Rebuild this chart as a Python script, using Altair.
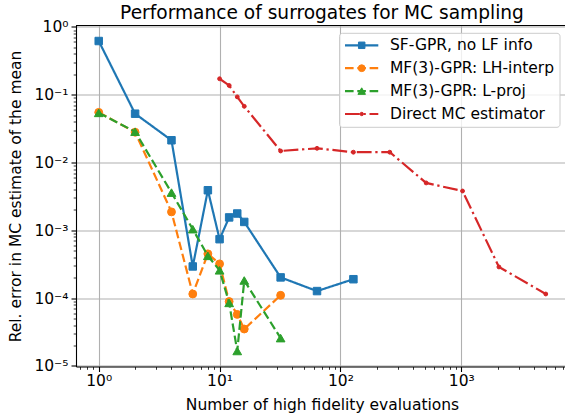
import altair as alt
import pandas as pd
import math

# ---------------- data ----------------
x_sf = [1, 2, 4, 6, 8, 10, 12, 14, 16, 32, 64, 128]
y_sf = [0.62, 0.0525, 0.0213, 2.93e-4, 3.9e-3, 7.4e-4, 1.55e-3, 1.77e-3, 1.33e-3, 2.02e-4, 1.27e-4, 1.9e-4]

x_lh = [1, 2, 4, 6, 8, 10, 12, 14, 16, 32]
y_lh = [0.055, 0.028, 1.87e-3, 1.15e-4, 4.5e-4, 3.2e-4, 8.9e-5, 5.75e-5, 3.5e-5, 1.1e-4]

x_lp = [1, 2, 4, 6, 8, 10, 12, 14, 16, 32]
y_lp = [0.054, 0.0285, 3.6e-3, 1.04e-3, 4.2e-4, 2.57e-4, 8.5e-5, 1.66e-5, 1.82e-4, 2.57e-5]

x_mc = [10, 12, 14, 16, 32, 64, 128, 256, 512, 1024, 2048, 5000]
y_mc = [0.172, 0.137, 0.093, 0.0675, 0.0148, 0.0162, 0.0142, 0.0142, 5.0e-3, 3.8e-3, 2.88e-4, 1.15e-4]

labels = ["SF-GPR, no LF info", "MF(3)-GPR: LH-interp", "MF(3)-GPR: L-proj", "Direct MC estimator"]
colors = ["#1f77b4", "#ff7f0e", "#2ca02c", "#d62728"]

title_text = "Performance of surrogates for MC sampling"
x_title = "Number of high fidelity evaluations"
y_title = "Rel. error in MC estimate of the mean"

x_major_exp = [0, 1, 2, 3]
y_major_exp = [-5, -4, -3, -2, -1, 0]

# ---------------- layout ----------------
W, H = 489, 341
X_DOM = [0.6486, 7211]
Y_DOM = [9.8e-6, 1.05]
FONT = "DejaVu Sans"
FS = 15.5

def ticks(dom, exps):
    vals = []
    for e in range(min(exps) - 1, max(exps) + 2):
        for m in range(1, 10):
            v = m * 10.0 ** e
            if dom[0] <= v <= dom[1]:
                vals.append(v)
    return vals

SUP = {'-': '\u207b', '0': '\u2070', '1': '\u00b9', '2': '\u00b2', '3': '\u00b3',
       '4': '\u2074', '5': '\u2075', '6': '\u2076'}

E = "round(log(datum.value)/LN10)"
MAJOR = f"abs(log(datum.value)/LN10 - {E}) < 1e-6"

def label_expr(exps):
    s = "''"
    for e in exps:
        lab = "10" + "".join(SUP[c] for c in str(e))
        s = f"({E} == {e} ? '{lab}' : {s})"
    return f"{MAJOR} ? {s} : ''"

def axis(title, exps, dom, **kw):
    return alt.Axis(
        title=title,
        values=ticks(dom, exps),
        labelExpr=label_expr(exps),
        labelOverlap=False,
        labelFlush=False,
        labelFont=FONT, labelFontSize=FS, labelColor="black",
        titleFont=FONT, titleFontSize=FS, titleFontWeight="normal", titleColor="black",
        domainColor="black", domainWidth=1.1,
        tickColor="black",
        tickSize={"condition": {"test": MAJOR, "value": 5}, "value": 2.8},
        tickWidth={"condition": {"test": MAJOR, "value": 1.1}, "value": 0.8},
        grid=True, gridColor="#b0b0b0", gridWidth=1.1,
        gridOpacity={"condition": {"test": MAJOR, "value": 1}, "value": 0},
        **kw,
    )

xenc = alt.X("x:Q", scale=alt.Scale(type="log", domain=X_DOM, nice=False),
             axis=axis(x_title, x_major_exp, X_DOM, labelPadding=2, titlePadding=8, titleX=246))
yenc = alt.Y("y:Q", scale=alt.Scale(type="log", domain=Y_DOM, nice=False),
             axis=axis(y_title, y_major_exp, Y_DOM, labelPadding=3, titlePadding=10))

series = [
    (x_sf, y_sf, colors[0], [1, 0], "square", 56),
    (x_lh, y_lh, colors[1], [8.6, 3.7], "circle", 62),
    (x_lp, y_lp, colors[2], [8.6, 3.7], "triangle-up", 76),
    (x_mc, y_mc, colors[3], [14.8, 3.7, 2.3, 3.7], "circle", 15),
]

layers = []
for xs, ys, col, dash, shp, sz in series:
    df = pd.DataFrame({"x": xs, "y": ys})
    base = alt.Chart(df)
    layers.append(base.mark_line(color=col, strokeWidth=2.2, strokeDash=dash).encode(x=xenc, y=yenc))
    layers.append(base.mark_point(shape=shp, size=sz, filled=True, fill=col, stroke=col,
                                  strokeWidth=1, opacity=1).encode(x=xenc, y=yenc))

# top spine
layers.append(alt.Chart(pd.DataFrame({"a": [0]})).mark_rule(color="black", strokeWidth=1.1).encode(
    x=alt.value(0), x2=alt.value(W), y=alt.value(0)))

# legend
leg = alt.Chart(pd.DataFrame({"a": [0]}))
layers.append(leg.mark_rect(fill="white", fillOpacity=0.8, stroke="#cccccc", strokeWidth=1,
                            cornerRadius=3).encode(
    x=alt.value(263.5), x2=alt.value(484), y=alt.value(7.8), y2=alt.value(101.8)))
row_y = [19.8, 42.7, 65.6, 88.5]
for i, (xs, ys, col, dash, shp, sz) in enumerate(series):
    yy = row_y[i]
    layers.append(leg.mark_rule(color=col, strokeWidth=2.2, strokeDash=dash).encode(
        x=alt.value(269), x2=alt.value(302.3), y=alt.value(yy)))
    layers.append(leg.mark_point(shape=shp, size=sz * 0.75, filled=True, fill=col, stroke=col,
                                 strokeWidth=1, opacity=1).encode(x=alt.value(285.7), y=alt.value(yy)))
    layers.append(leg.mark_text(text=labels[i], align="left", baseline="middle", font=FONT,
                                fontSize=FS, color="black").encode(x=alt.value(314), y=alt.value(yy)))

chart = alt.layer(*layers).properties(
    width=W, height=H,
    title=alt.TitleParams(title_text, font=FONT, fontSize=18.6, fontWeight="normal",
                          color="black", anchor="middle", offset=6, dx=1.5, dy=9),
    autosize=alt.AutoSizeParams(type="none"),
    padding={"left": 76, "top": 25.5, "right": 0, "bottom": 419 - 25.5 - H},
).configure_view(stroke=None).configure(background="white")

chart.save("out.html", embed_options={"renderer": "svg", "actions": False})
